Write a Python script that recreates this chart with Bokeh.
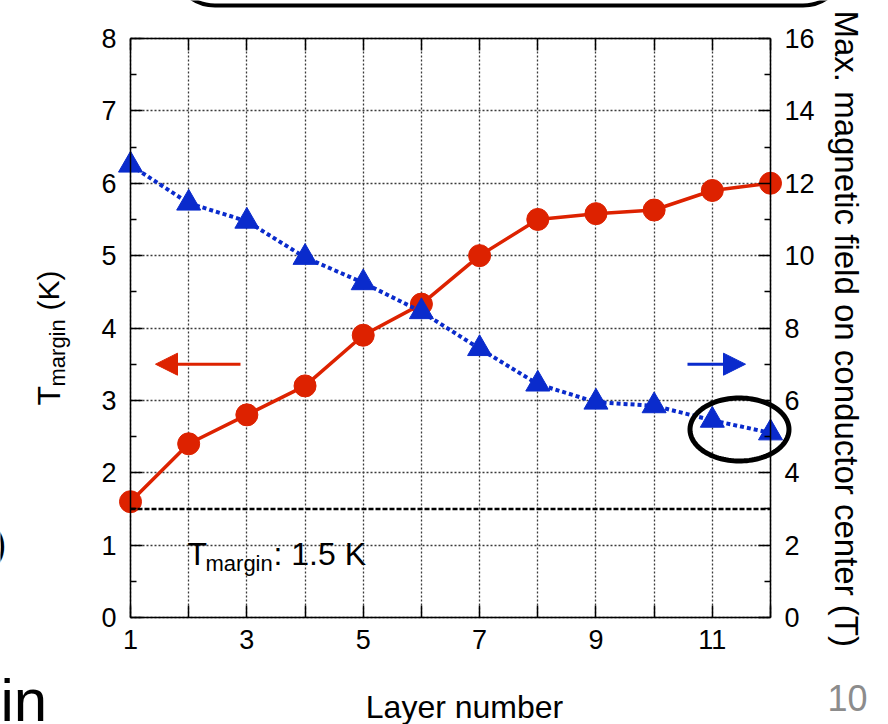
import numpy as np
from math import pi
from bokeh.plotting import figure
from bokeh.models import (Range1d, LinearAxis, FixedTicker, Label, Arrow, Grid,
                          NormalHead, BoxAnnotation, PolyAnnotation)
from bokeh.embed import file_html
from bokeh.resources import INLINE

# ---------------- data ----------------
layers = [1, 2, 3, 4, 5, 6, 7, 8, 9, 10, 11, 12]
t_margin = [1.6, 2.4, 2.8, 3.2, 3.9, 4.33, 5.0, 5.5, 5.58, 5.63, 5.9, 6.0]
b_max = [12.5, 11.45, 10.95, 9.95, 9.25, 8.45, 7.43, 6.45, 5.95, 5.85, 5.45, 5.1]
x_ticks = [1, 3, 5, 7, 9, 11]
x_tick_labels = ["1", "3", "5", "7", "9", "11"]
x_minor = [2, 4, 6, 8, 10, 12]
left_ticks = [0, 1, 2, 3, 4, 5, 6, 7, 8]
left_minor = [0.5, 1.5, 2.5, 3.5, 4.5, 5.5, 6.5, 7.5]
right_ticks = [0, 2, 4, 6, 8, 10, 12, 14, 16]
right_minor = [1, 3, 5, 7, 9, 11, 13, 15]
t_limit = 1.5

FONT = "Liberation Sans"
RED = "#dd2200"
BLUE = "#0a2bcc"
GRID = "#3a3a3a"

W, H = 888, 724
# chart box (canvas pixels) used to map the value ranges onto the canvas
FX0, FX1, FY0, FY1 = 130, 770, 38, 617
XS = (FX1 - FX0) / 11.0
YS = (FY1 - FY0) / 8.0


def dx(px):
    return 1 + (px - FX0) / XS


def dy(py):
    return (FY1 - py) / YS


p = figure(width=W, height=H, min_border=0,
           x_range=Range1d(dx(0), dx(W)), y_range=Range1d(dy(H), dy(0)),
           output_backend="svg", toolbar_location=None, title=None)
p.background_fill_color = "white"
p.border_fill_color = "white"
p.outline_line_color = None
p.extra_y_ranges = {"b": Range1d(2 * dy(H), 2 * dy(0))}


def style_axis(ax):
    ax.axis_line_color = "black"
    ax.axis_line_width = 1.5
    ax.major_tick_in = 12
    ax.major_tick_out = 0
    ax.minor_tick_in = 6
    ax.minor_tick_out = 0
    ax.major_tick_line_width = 1.5
    ax.minor_tick_line_width = 1.5
    ax.major_label_text_font = FONT
    ax.major_label_text_font_size = "27px"
    ax.major_label_text_color = "black"


xa = p.xaxis[0]
xa.ticker = FixedTicker(ticks=x_ticks, minor_ticks=x_minor)
xa.major_label_overrides = dict(zip(x_ticks, x_tick_labels))
style_axis(xa)
xa.minor_tick_in = 12
xa.fixed_location = 0
xa.bounds = (1, 12)
xa.major_label_standoff = 12

ya = p.yaxis[0]
ya.ticker = FixedTicker(ticks=left_ticks, minor_ticks=left_minor)
style_axis(ya)
ya.fixed_location = 1
ya.bounds = (0, 8)
ya.major_label_standoff = 14

ra = LinearAxis(y_range_name="b", ticker=FixedTicker(ticks=right_ticks, minor_ticks=right_minor))
style_axis(ra)
ra.fixed_location = 12
ra.bounds = (0, 16)
ra.major_label_standoff = 14
p.add_layout(ra, "right")

ta = LinearAxis(ticker=FixedTicker(ticks=x_ticks, minor_ticks=x_minor))
style_axis(ta)
ta.minor_tick_in = 12
ta.major_label_text_color = None
ta.fixed_location = 8
ta.bounds = (1, 12)
p.add_layout(ta, "above")

has_cross = "cross_bounds" in Grid.properties()
xg, yg = p.xgrid[0], p.ygrid[0]
for g in (xg, yg):
    g.grid_line_color = GRID
    g.grid_line_dash = "2 2"
    g.grid_line_width = 1.3
xg.minor_grid_line_color = GRID
xg.minor_grid_line_dash = "2 2"
xg.minor_grid_line_width = 1.3
if has_cross:
    xg.cross_bounds = (0, 8)
    yg.cross_bounds = (1, 12)
else:
    xg.visible = False
    yg.visible = False
    p.segment(x0=layers, y0=[left_ticks[0]] * len(layers), x1=layers,
              y1=[left_ticks[-1]] * len(layers), line_color=GRID,
              line_dash="2 2", line_width=1.3)
    p.segment(x0=[layers[0]] * len(left_ticks), y0=left_ticks,
              x1=[layers[-1]] * len(left_ticks), y1=left_ticks,
              line_color=GRID, line_dash="2 2", line_width=1.3)

# ---------------- series ----------------
p.line(layers, t_margin, line_color=RED, line_width=3.5)
p.scatter(layers, t_margin, marker="circle", size=22, fill_color=RED, line_color=RED)

p.line(layers, b_max, y_range_name="b", line_color=BLUE, line_width=4, line_dash="4 3")
p.scatter(layers, b_max, y_range_name="b", marker="triangle", size=24,
          fill_color=BLUE, line_color=BLUE)

# threshold line
p.line([layers[0], layers[-1]], [t_limit, t_limit], line_color="black",
       line_width=2.5, line_dash="5 2")

# arrows
p.add_layout(Arrow(end=NormalHead(size=22, fill_color=RED, line_color=RED),
                   x_start=dx(240), y_start=3.5, x_end=dx(155), y_end=3.5,
                   line_color=RED, line_width=3))
p.add_layout(Arrow(end=NormalHead(size=22, fill_color=BLUE, line_color=BLUE),
                   x_start=dx(687), y_start=3.5, x_end=dx(745), y_end=3.5,
                   line_color=BLUE, line_width=3))

# ellipse highlight
th = np.linspace(0, 2 * pi, 120)
ex = dx(739) + (49.5 / XS) * np.cos(th)
ey = dy(429) + (31.5 / YS) * np.sin(th)
p.add_layout(PolyAnnotation(xs=list(ex), ys=list(ey), fill_color=None, fill_alpha=0,
                            line_color="black", line_alpha=1, line_width=5))

# rounded box at top of slide
p.add_layout(BoxAnnotation(left=dx(172), right=dx(845), bottom=dy(5), top=dy(-80),
                           fill_color=None, fill_alpha=0, line_color="black",
                           line_alpha=1, line_width=4, border_radius=55))


# ---------------- texts ----------------
def lab(x, y, text, size, angle=0, color="black", align="left"):
    p.add_layout(Label(x=x, y=y, text=text, angle=angle, text_font=FONT,
                       text_font_size=size, text_color=color, text_align=align,
                       text_baseline="alphabetic"))


# left axis label T_margin (K)
lab(dx(48), dy(405), "T", "32px", angle=pi / 2)
lab(dx(57), dy(386), "margin", "22px", angle=pi / 2)
lab(dx(48), dy(310), "(K)", "30px", angle=pi / 2)

# right axis label
lab(dx(846), dy(10), "Max. magnetic field on conductor center (T)", "33px", angle=-pi / 2)

# x axis label
lab(dx(464), dy(706), "Layer number", "32px", align="center")

# T_margin: 1.5 K note
lab(dx(187), dy(553), "T", "32px")
lab(dx(205), dy(563), "margin", "22px")
lab(dx(273), dy(553), ": 1.5 K", "32px")

# slide fragments
lab(dx(867), dy(697), "10", "36px", color="#8c8c8c", align="right")
lab(dx(0), dy(700), "in", "60px")
lab(dx(6), dy(543), ")", "40px", align="right")

open("out.html", "w").write(file_html(p, INLINE))
